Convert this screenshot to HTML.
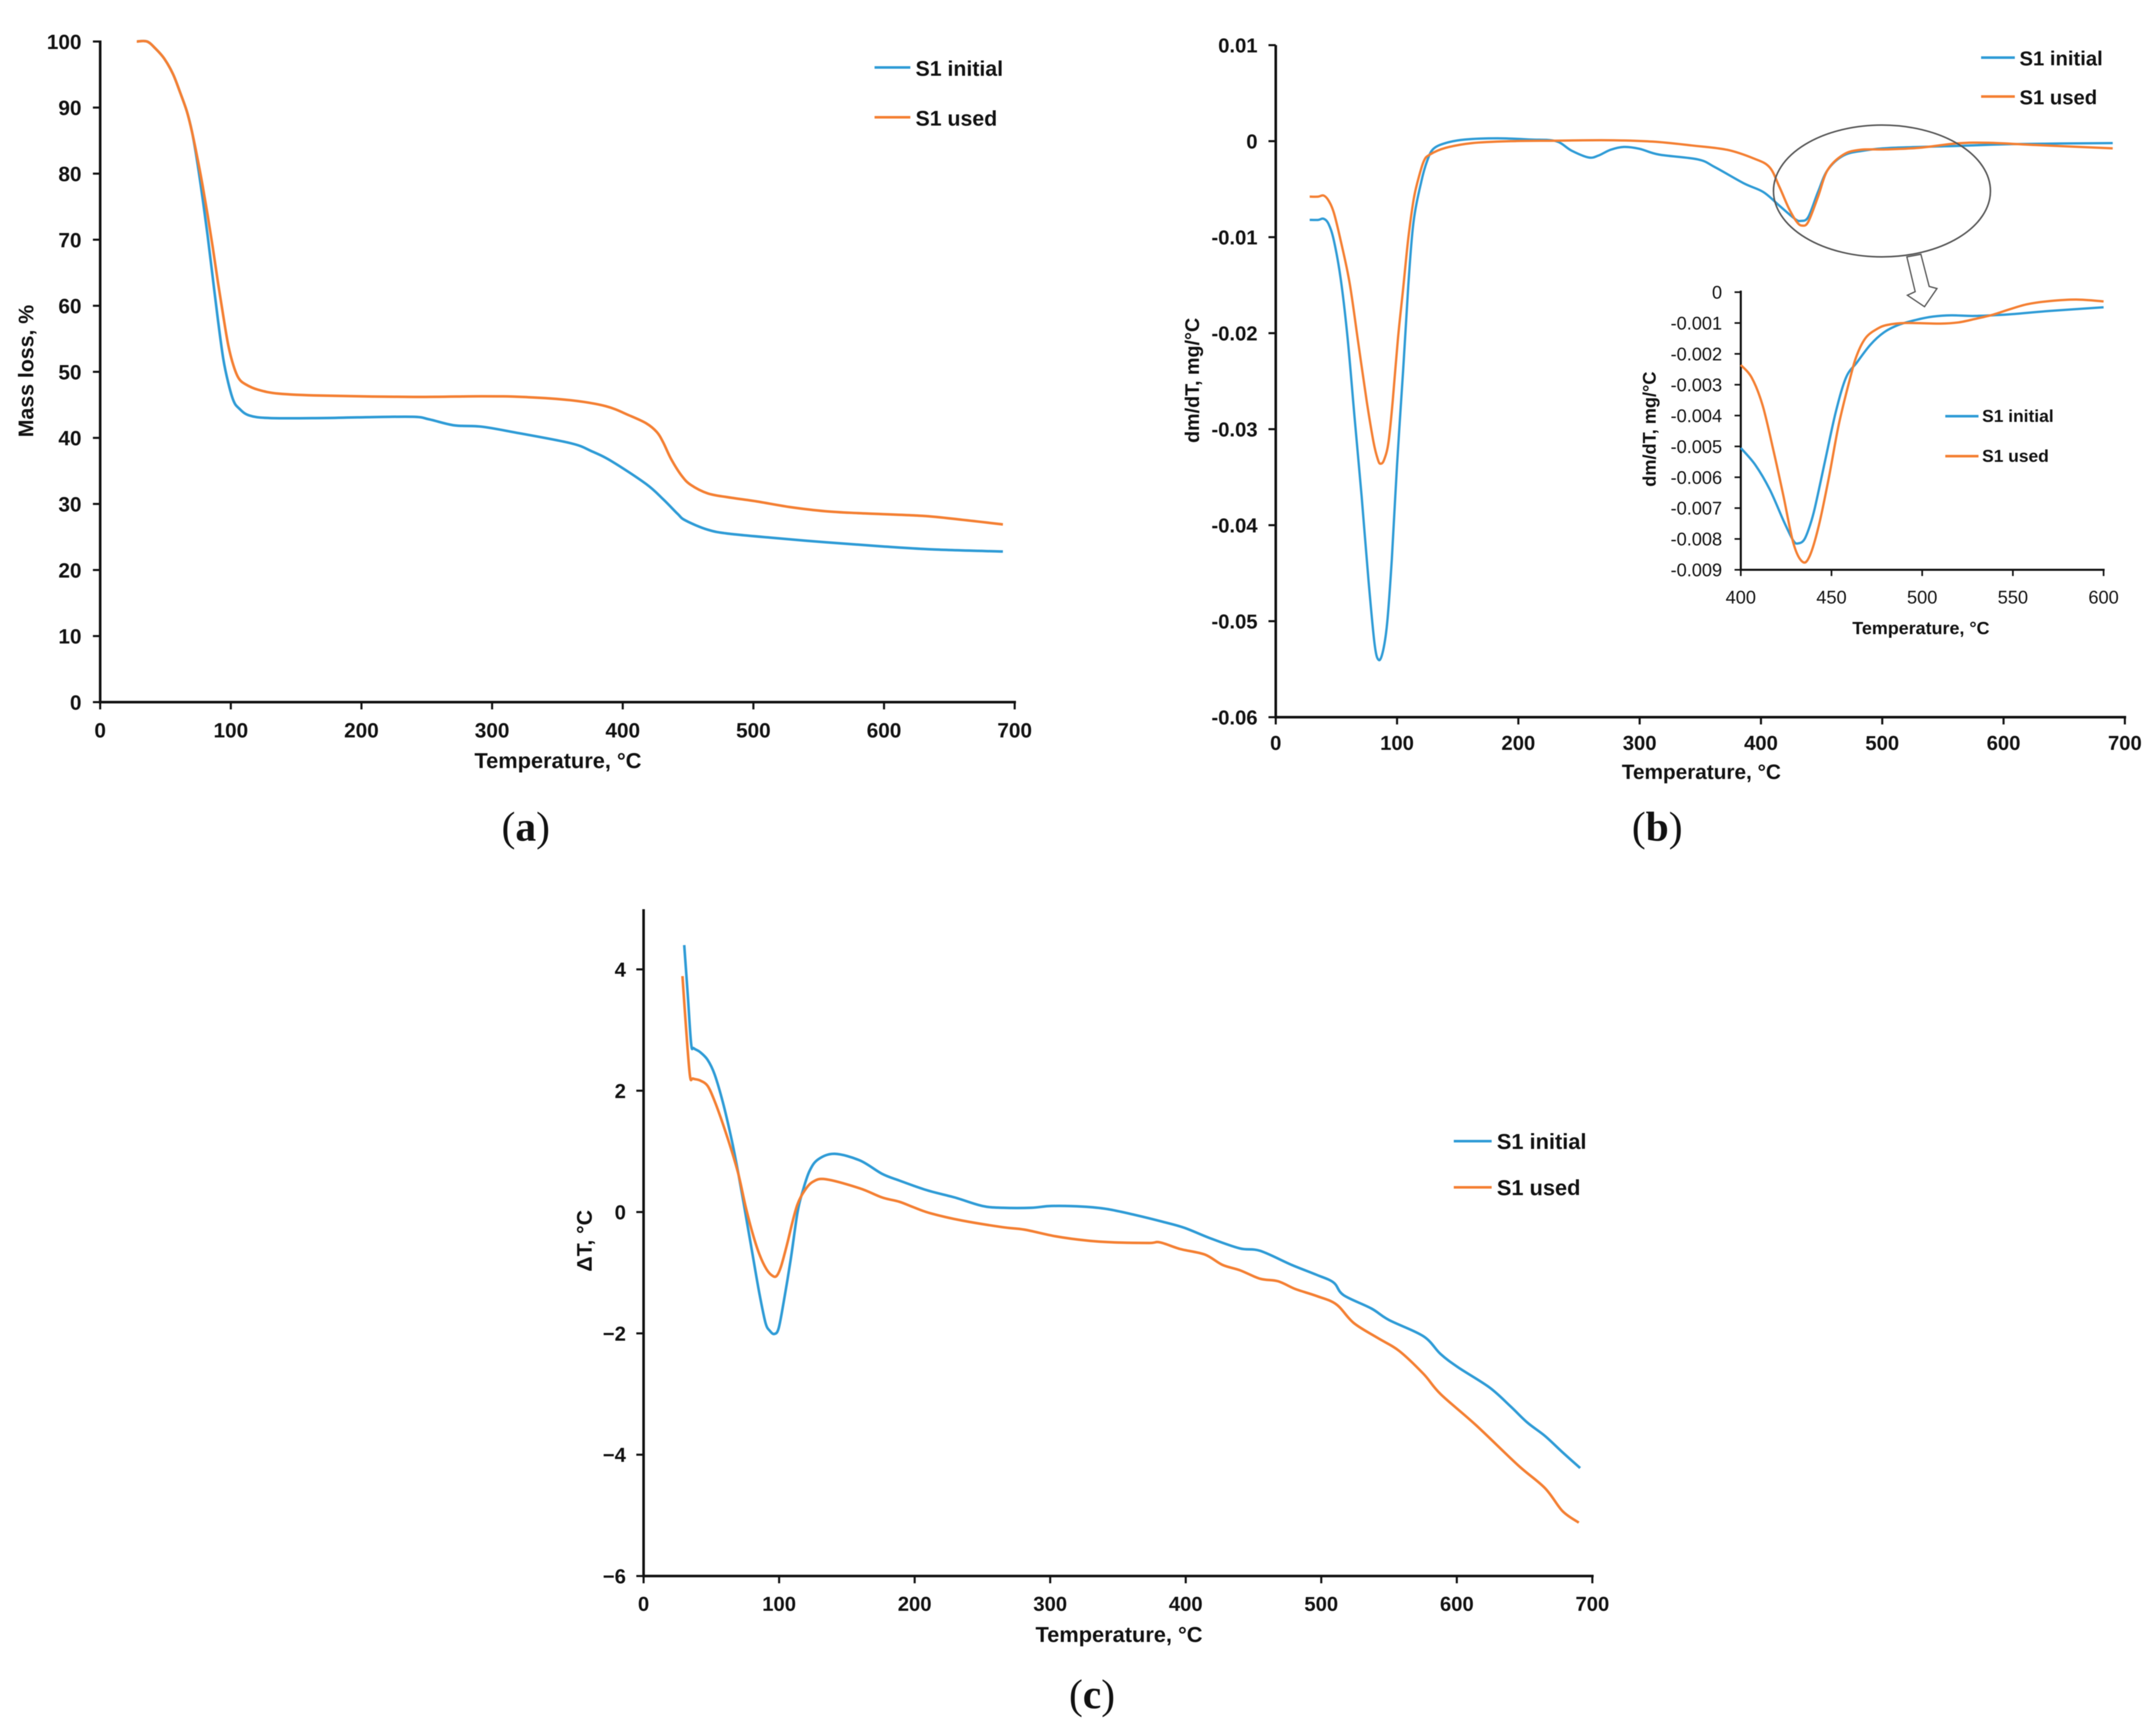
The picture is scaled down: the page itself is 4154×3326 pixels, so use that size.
<!DOCTYPE html>
<html lang="en">
<head>
<meta charset="utf-8">
<title>Thermal analysis of S1 initial and S1 used</title>
<style>
html,body{margin:0;padding:0;background:#fff;width:4154px;height:3326px;overflow:hidden}
svg{display:block;filter:blur(.7px)}
text{font-family:"Liberation Sans",sans-serif;font-weight:700;fill:#111}
.cap{font-family:"Liberation Serif",serif;font-size:80px;font-weight:400;text-anchor:middle}
.cap tspan{font-weight:700}
.title{text-anchor:middle}
</style>
</head>
<body>
<svg id="figure" xmlns="http://www.w3.org/2000/svg" width="4154" height="3326" viewBox="0 0 4154 3326">
  <rect width="4154" height="3326" fill="#fff"/>

  <g id="chart-a"></g>
  <g id="chart-b"></g>
  <ellipse cx="3626" cy="368" rx="209" ry="127" fill="none" stroke="#555" stroke-width="3"/>
  <polygon points="3674,495 3701,490 3717,552 3732,556 3708,591 3675,569 3690,562" fill="#fff" stroke="#555" stroke-width="2.5"/>
  <g id="chart-inset"></g>
  <g id="chart-c"></g>

  <text class="title" x="1075" y="1480" font-size="42">Temperature, °C</text>
  <text class="title" transform="translate(64,715) rotate(-90)" font-size="41">Mass loss, %</text>
  <line x1="1685" y1="130" x2="1754" y2="130" stroke="#2e9bd6" stroke-width="5"/>
  <text x="1764" y="146" font-size="41">S1 initial</text>
  <line x1="1685" y1="226" x2="1754" y2="226" stroke="#f47f32" stroke-width="5"/>
  <text x="1764" y="242" font-size="41">S1 used</text>
  <text class="cap" x="1013" y="1620">(<tspan>a</tspan>)</text>

  <text class="title" x="3278" y="1501" font-size="40">Temperature, °C</text>
  <text class="title" transform="translate(2310,733) rotate(-90)" font-size="38">dm/dT, mg/°C</text>
  <line x1="3817" y1="111" x2="3882" y2="111" stroke="#2e9bd6" stroke-width="5"/>
  <text x="3891" y="126" font-size="39">S1 initial</text>
  <line x1="3817" y1="186" x2="3882" y2="186" stroke="#f47f32" stroke-width="5"/>
  <text x="3891" y="201" font-size="39">S1 used</text>
  <text class="cap" x="3193" y="1620">(<tspan>b</tspan>)</text>

  <text class="title" x="3701" y="1222" font-size="34.5">Temperature, °C</text>
  <text class="title" transform="translate(3190,827) rotate(-90)" font-size="35">dm/dT, mg/°C</text>
  <line x1="3748" y1="802" x2="3812" y2="802" stroke="#2e9bd6" stroke-width="5"/>
  <text x="3819" y="813" font-size="33.5">S1 initial</text>
  <line x1="3748" y1="879" x2="3812" y2="879" stroke="#f47f32" stroke-width="5"/>
  <text x="3819" y="890" font-size="33.5">S1 used</text>

  <text class="title" x="2156" y="3164" font-size="42">Temperature, °C</text>
  <text class="title" transform="translate(1140,2391) rotate(-90)" font-size="41">ΔT, °C</text>
  <line x1="2801" y1="2199" x2="2874" y2="2199" stroke="#2e9bd6" stroke-width="5"/>
  <text x="2884" y="2214" font-size="42">S1 initial</text>
  <line x1="2801" y1="2288" x2="2874" y2="2288" stroke="#f47f32" stroke-width="5"/>
  <text x="2884" y="2303" font-size="42">S1 used</text>
  <text class="cap" x="2104" y="3292">(<tspan>c</tspan>)</text>
</svg>

<script>
// Shared tick values
var tempTicks = [0, 100, 200, 300, 400, 500, 600, 700];

// Chart a: mass loss
var aYTicks = [0, 10, 20, 30, 40, 50, 60, 70, 80, 90, 100];
var aInitialT = [28,35.9,42.5,49.1,55.7,61,66.4,70.3,74.3,78.3,82.2,86.2,90.2,94.2,98.1,102.1,106.1,114,130,169.6,197,239,252,271,292,318,360,376,392,418,431,442,448,465,481,513,555,597,639,691];
var aInitialV = [100,100,98.9,97.4,95.1,92.4,89.4,86.3,81.8,76.4,70.7,64.2,57.8,52,48.3,45.6,44.5,43.4,43,43,43.1,43.2,42.8,41.9,41.7,40.8,39.2,38,36.4,33,30.7,28.5,27.5,26.1,25.5,24.9,24.2,23.6,23.1,22.8];
var aUsedT = [28,35.9,42.5,49.1,55.7,61,66.4,70.3,74.3,78.3,82.2,86.2,90.2,94.2,98.1,102.1,106.1,111.4,120.7,136.6,169.6,240,292,323,360,387,405,418,426,431,437,445,452,465,481,502,529,555,581,629,660,691];
var aUsedV = [100,100,98.9,97.4,95.1,92.4,89.4,86.3,82.5,78.3,73.8,68.8,63.5,58.5,54,50.9,49,48.1,47.3,46.7,46.4,46.2,46.3,46.2,45.7,44.8,43.4,42.2,40.9,39.3,36.8,34.3,32.9,31.6,31,30.4,29.5,28.9,28.6,28.2,27.6,26.9];

// Chart b: derivative
var bYTicks = [0.01, 0, -0.01, -0.02, -0.03, -0.04, -0.05, -0.06];
var bYLabels = ['0.01', '0', '-0.01', '-0.02', '-0.03', '-0.04', '-0.05', '-0.06'];
var bInitialT = [28,35,39.4,43.6,48,53.6,59.3,65,70.8,76.5,81.5,85,88.6,92,95.7,100,105,109.3,113.5,120,125,130,140,156,183,210,231,244,258,266,276,287,300,316,348,362,386,402,415,428,433,439,447,455,468,484,508,562,610,690];
var bInitialV = [-8.2,-8.2,-8.08,-8.64,-10.4,-14.4,-20.6,-28.8,-37,-45.8,-52.4,-54.05,-53,-50,-43.5,-33.7,-23.9,-15,-8.5,-4.2,-2,-0.8,-0.2,0.17,0.3,0.17,0,-1,-1.7,-1.5,-0.9,-0.6,-0.8,-1.4,-1.9,-2.7,-4.4,-5.3,-6.7,-8.1,-8.3,-7.9,-5.3,-3,-1.5,-1,-0.7,-0.5,-0.3,-0.2];
var bUsedT = [28,35,39.4,43.6,48,53.6,60.8,67.9,75,80.7,84.3,86.4,89.3,92.9,96.4,100.7,105,109.3,113.5,117,122,127,140,162,194,231,274,311,343,372,394,407,415,423,429.5,434,439,447,455,468,482,503,530,562,588,626,690];
var bUsedV = [-5.78,-5.78,-5.66,-6.2,-7.5,-10.4,-14.7,-20.9,-27.1,-31.4,-33.2,-33.6,-33.2,-31.4,-27.1,-20.6,-15.4,-10.1,-6.2,-4.2,-2.1,-1.4,-0.7,-0.2,0,0.05,0.1,-0.05,-0.45,-0.9,-1.8,-2.7,-4.7,-7,-8.4,-8.8,-8.4,-5.8,-3,-1.4,-0.9,-0.86,-0.7,-0.23,-0.17,-0.4,-0.75];

// Inset of chart b
var insetXTicks = [400, 450, 500, 550, 600];
var insetYTicks = [0, -0.001, -0.002, -0.003, -0.004, -0.005, -0.006, -0.007, -0.008, -0.009];
var insetYLabels = ['0', '-0.001', '-0.002', '-0.003', '-0.004', '-0.005', '-0.006', '-0.007', '-0.008', '-0.009'];
var insetInitialT = [400,408,416,423.5,429,432,435,437.9,440.8,446.5,452.3,458,464,471.5,479,487,496.5,506,516,529,548,570,600];
var insetInitialV = [-5.05,-5.6,-6.4,-7.4,-8.06,-8.14,-8.02,-7.6,-7,-5.46,-3.9,-2.77,-2.28,-1.7,-1.3,-1.06,-0.9,-0.79,-0.75,-0.77,-0.72,-0.61,-0.49];
var insetUsedT = [400,406,412,418,423.5,429,434,438,443,448.5,454,460,464,469,475.5,481,491,510,520,529,539,548.5,558,570,585,600];
var insetUsedV = [-2.36,-2.77,-3.66,-5.13,-6.6,-8.14,-8.74,-8.55,-7.57,-6.03,-4.3,-2.85,-2.04,-1.47,-1.18,-1.06,-1,-1.02,-0.98,-0.87,-0.73,-0.55,-0.39,-0.29,-0.24,-0.3];

// Chart c: delta T
var cYTicks = [4, 2, 0, -2, -4, -6];
var cYLabels = ['4', '2', '0', '−2', '−4', '−6'];
var cInitialT = [30,32.6,35.1,37,41.5,47.2,52.4,58.7,65.1,70.1,75.3,80.4,85.5,90,93.2,96.4,99.6,103.4,108.5,113.6,117.5,122.5,128.9,141,159.6,176,188.6,209,229.6,250,265,286,301,324,342,363,383,399,419,440,455,478,496,509,516.5,537,550,575.5,588,601,624,639.5,652,665,678,691];
var cInitialV = [4.4,3.58,2.77,2.7,2.64,2.51,2.27,1.79,1.18,0.61,-0.04,-0.7,-1.35,-1.83,-1.96,-2.01,-1.92,-1.48,-0.79,0,0.35,0.68,0.87,0.96,0.85,0.63,0.52,0.36,0.24,0.1,0.07,0.07,0.1,0.09,0.05,-0.05,-0.16,-0.26,-0.44,-0.6,-0.64,-0.87,-1.03,-1.16,-1.37,-1.59,-1.78,-2.05,-2.34,-2.56,-2.89,-3.2,-3.47,-3.69,-3.96,-4.22];
var cUsedT = [28.7,31.3,34.2,36.4,41.5,47.2,52.4,58.7,65.1,70.1,75.3,80.4,85.5,90.6,95,98.3,101.5,106,109.8,113.6,118.7,125,134.7,159.6,176,188.6,199,211.6,235,265,281,304,327,347.5,373,381,396,414,427,440,455,468,481,496,511,524,542,557.5,575.5,588,614,645,665,678,690];
var cUsedV = [3.89,3.05,2.25,2.2,2.17,2.08,1.83,1.44,1,0.61,0.09,-0.35,-0.7,-0.94,-1.05,-1.05,-0.89,-0.52,-0.17,0.13,0.35,0.5,0.54,0.39,0.24,0.17,0.08,-0.02,-0.14,-0.25,-0.29,-0.4,-0.47,-0.5,-0.51,-0.5,-0.61,-0.7,-0.87,-0.96,-1.1,-1.14,-1.27,-1.38,-1.52,-1.83,-2.08,-2.29,-2.67,-3,-3.51,-4.17,-4.55,-4.93,-5.12];

var SVGNS = 'http://www.w3.org/2000/svg';

function scale(d0, d1, r0, r1) {
  return function (v) { return r0 + (v - d0) / (d1 - d0) * (r1 - r0); };
}

function smoothPath(xs, ys, sx, sy, factor) {
  var pts = xs.map(function (x, i) { return [sx(x), sy(ys[i] * factor)]; });
  var d = 'M' + pts[0][0].toFixed(1) + ' ' + pts[0][1].toFixed(1);
  for (var i = 0; i < pts.length - 1; i++) {
    var p0 = pts[Math.max(i - 1, 0)], p1 = pts[i], p2 = pts[i + 1], p3 = pts[Math.min(i + 2, pts.length - 1)];
    var c1x = p1[0] + (p2[0] - p0[0]) / 6, c1y = p1[1] + (p2[1] - p0[1]) / 6;
    var c2x = p2[0] - (p3[0] - p1[0]) / 6, c2y = p2[1] - (p3[1] - p1[1]) / 6;
    d += 'C' + c1x.toFixed(1) + ' ' + c1y.toFixed(1) + ' ' + c2x.toFixed(1) + ' ' + c2y.toFixed(1) + ' ' + p2[0].toFixed(1) + ' ' + p2[1].toFixed(1);
  }
  return d;
}

function addLine(g, x1, y1, x2, y2, w, name) {
  var el = document.createElementNS(SVGNS, 'line');
  el.setAttribute('x1', x1);
  el.setAttribute('y1', y1);
  el.setAttribute('x2', x2);
  el.setAttribute('y2', y2);
  el.setAttribute('stroke', '#111');
  el.setAttribute('stroke-width', w);
  
  
  g.appendChild(el);
}

function addLabel(g, x, y, str, size, anchor, weight, name) {
  var el = document.createElementNS(SVGNS, 'text');
  el.setAttribute('x', x);
  el.setAttribute('y', y);
  el.setAttribute('font-size', size);
  el.setAttribute('text-anchor', anchor);
  el.style.fontWeight = weight;
  
  
  el.textContent = str;
  g.appendChild(el);
}

function addSeries(g, d, color, w, name) {
  var el = document.createElementNS(SVGNS, 'path');
  el.setAttribute('d', d);
  el.setAttribute('fill', 'none');
  el.setAttribute('stroke', color);
  el.setAttribute('stroke-width', w);
  el.setAttribute('stroke-linejoin', 'round');
  el.setAttribute('stroke-linecap', 'butt');
  
  
  g.appendChild(el);
}

function drawAxes(g, o) {
  var top = o.yTop, bottom = o.y0;
  addLine(g, o.x0, top, o.x0, bottom + o.w / 2, o.w, 'y-axis');
  addLine(g, o.x0 - o.w / 2, bottom, o.x1 + o.w / 2, bottom, o.w, 'x-axis');
  o.xTicks.forEach(function (t) {
    addLine(g, o.sx(t), bottom, o.sx(t), bottom + o.tick, o.w * 0.8, 'x-tick');
    addLabel(g, o.sx(t), o.xLabelY, String(t), o.size, 'middle', o.weight, 'x-tick-label');
  });
  o.yTicks.forEach(function (t, i) {
    addLine(g, o.x0 - o.tick, o.sy(t), o.x0, o.sy(t), o.w * 0.8, 'y-tick');
    addLabel(g, o.yLabelX, o.sy(t) + o.size * 0.36, o.yLabels ? o.yLabels[i] : String(t), o.size, 'end', o.weight, 'y-tick-label');
  });
}

var BLUE = '#2e9bd6', ORANGE = '#f47f32';

// Chart a
var ax = scale(0, 700, 193, 1955), ay = scale(0, 100, 1353, 80);
var gA = document.getElementById('chart-a');
drawAxes(gA, {x0: 193, x1: 1955, y0: 1353, yTop: 78, w: 5, tick: 14, sx: ax, sy: ay, xTicks: tempTicks, yTicks: aYTicks, xLabelY: 1421, yLabelX: 157, size: 40, weight: 700});
addSeries(gA, smoothPath(aInitialT, aInitialV, ax, ay, 1), BLUE, 5, 'series-s1-initial');
addSeries(gA, smoothPath(aUsedT, aUsedV, ax, ay, 1), ORANGE, 5, 'series-s1-used');

// Chart b
var bx = scale(0, 700, 2458, 4094), by = scale(0.01, -0.06, 87, 1382);
var gB = document.getElementById('chart-b');
drawAxes(gB, {x0: 2458, x1: 4094, y0: 1382, yTop: 87, w: 5, tick: 14, sx: bx, sy: by, xTicks: tempTicks, yTicks: bYTicks, yLabels: bYLabels, xLabelY: 1445, yLabelX: 2423, size: 39, weight: 700});
addSeries(gB, smoothPath(bInitialT, bInitialV, bx, by, 0.001), BLUE, 4.5, 'series-s1-initial');
addSeries(gB, smoothPath(bUsedT, bUsedV, bx, by, 0.001), ORANGE, 4.5, 'series-s1-used');

// Inset
var ix = scale(400, 600, 3354, 4053), iy = scale(0, -0.009, 563, 1098);
var gI = document.getElementById('chart-inset');
drawAxes(gI, {x0: 3354, x1: 4053, y0: 1098, yTop: 560, w: 4, tick: 12, sx: ix, sy: iy, xTicks: insetXTicks, yTicks: insetYTicks, yLabels: insetYLabels, xLabelY: 1163, yLabelX: 3318, size: 35, weight: 400});
addSeries(gI, smoothPath(insetInitialT, insetInitialV, ix, iy, 0.001), BLUE, 4.5, 'series-s1-initial');
addSeries(gI, smoothPath(insetUsedT, insetUsedV, ix, iy, 0.001), ORANGE, 4.5, 'series-s1-used');

// Chart c
var cx = scale(0, 700, 1240, 3068), cy = scale(4, -6, 1868, 3037);
var gC = document.getElementById('chart-c');
drawAxes(gC, {x0: 1240, x1: 3068, y0: 3037, yTop: 1752, w: 5, tick: 14, sx: cx, sy: cy, xTicks: tempTicks, yTicks: cYTicks, yLabels: cYLabels, xLabelY: 3104, yLabelX: 1206, size: 39, weight: 700});
addSeries(gC, smoothPath(cInitialT, cInitialV, cx, cy, 1), BLUE, 5, 'series-s1-initial');
addSeries(gC, smoothPath(cUsedT, cUsedV, cx, cy, 1), ORANGE, 5, 'series-s1-used');
</script>
</body>
</html>
